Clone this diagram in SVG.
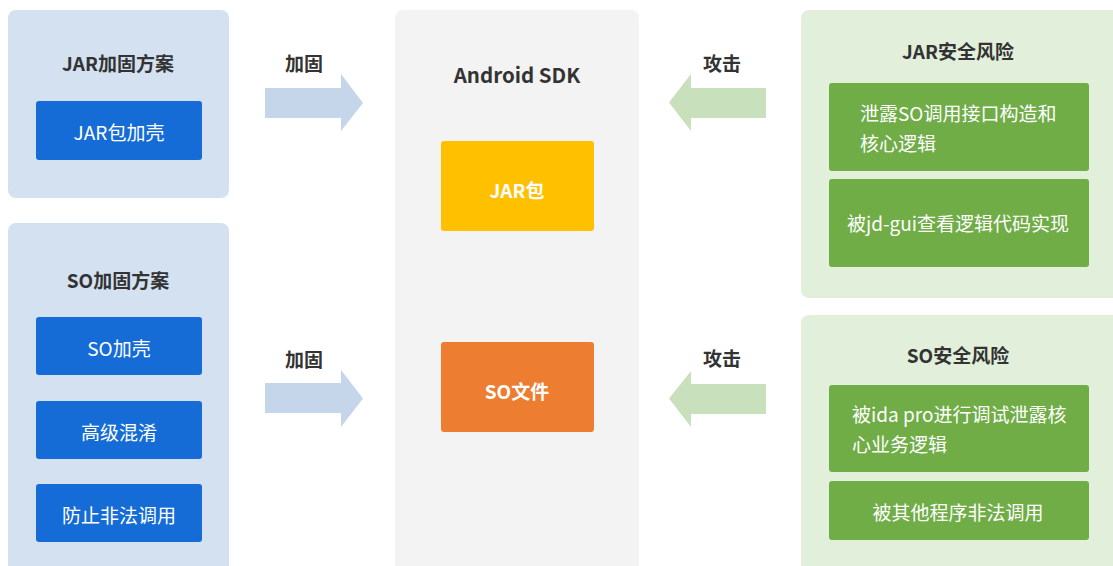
<svg xmlns="http://www.w3.org/2000/svg" width="1113" height="566" viewBox="0 0 1113 566">
<style>
text{font-family:"Noto Sans CJK SC","Noto Sans",sans-serif;font-size:19px;dominant-baseline:central}
.t{fill:#333;font-weight:bold;text-anchor:middle}
.w{fill:#fff;text-anchor:middle}
.wl{fill:#fff}
.wb{fill:#fff;font-weight:bold;text-anchor:middle}
.pb{fill:#D4E1F1}
.pg{fill:#E2EFDA}
.pc{fill:#F3F3F3}
.bb{fill:#156CD6}
.bg{fill:#70AD47}
.ab{fill:#C5D5EA}
.ag{fill:#C9E0BC}
</style>
<rect width="1113" height="566" fill="#fff"/>
<g id="jar-plan">
<rect class="pb" x="8" y="10" width="221" height="188" rx="8"/>
<text class="t" x="118" y="62">JAR加固方案</text>
<rect class="bb" x="36" y="101" width="166" height="59" rx="3"/>
<text class="w" x="119" y="131">JAR包加壳</text>
</g>
<g id="so-plan">
<rect class="pb" x="8" y="223" width="221" height="360" rx="8"/>
<text class="t" x="118" y="279">SO加固方案</text>
<rect class="bb" x="36" y="317" width="166" height="58" rx="3"/>
<text class="w" x="119" y="347">SO加壳</text>
<rect class="bb" x="36" y="401" width="166" height="58" rx="3"/>
<text class="w" x="119" y="431">高级混淆</text>
<rect class="bb" x="36" y="484" width="166" height="58" rx="3"/>
<text class="w" x="119" y="514">防止非法调用</text>
</g>
<g id="android-sdk">
<rect class="pc" x="395" y="10" width="244" height="573" rx="8"/>
<text class="t" x="517" y="74" style="font-size:20.5px">Android SDK</text>
</g>
<g id="jar-pkg">
<rect fill="#FFC000" x="441" y="141" width="153" height="90" rx="3"/>
<text class="wb" x="517" y="189">JAR包</text>
</g>
<g id="so-file">
<rect fill="#ED7D31" x="441" y="342" width="153" height="90" rx="3"/>
<text class="wb" x="517" y="390">SO文件</text>
</g>
<g id="jar-risk">
<rect class="pg" x="801" y="10" width="320" height="288" rx="8"/>
<text class="t" x="958" y="50">JAR安全风险</text>
<rect class="bg" x="829" y="83" width="260" height="88" rx="3"/>
<text class="wl" x="860" y="112">泄露SO调用接口构造和</text>
<text class="wl" x="860" y="142">核心逻辑</text>
<rect class="bg" x="829" y="179" width="260" height="88" rx="3"/>
<text class="w" x="958" y="222">被jd-gui查看逻辑代码实现</text>
</g>
<g id="so-risk">
<rect class="pg" x="801" y="315" width="320" height="268" rx="8"/>
<text class="t" x="958" y="354">SO安全风险</text>
<rect class="bg" x="829" y="385" width="260" height="87" rx="3"/>
<text class="wl" x="852" y="413">被ida pro进行调试泄露核</text>
<text class="wl" x="852" y="443">心业务逻辑</text>
<rect class="bg" x="829" y="481" width="260" height="59" rx="3"/>
<text class="w" x="958" y="511">被其他程序非法调用</text>
</g>
<g id="connectors">
<polygon class="ab" points="265,88 341,88 341,74 363,103 341,131 341,118 265,118"/>
<text class="t" x="304" y="62">加固</text>
<polygon class="ab" points="265,383 341,383 341,370 363,398.5 341,427 341,413 265,413"/>
<text class="t" x="304" y="358">加固</text>
<polygon class="ag" points="766,88 691,88 691,74 669,102.5 691,131 691,118 766,118"/>
<text class="t" x="722" y="62">攻击</text>
<polygon class="ag" points="766,384 691,384 691,371 669,398.5 691,427 691,414 766,414"/>
<text class="t" x="722" y="357">攻击</text>
</g>
</svg>
